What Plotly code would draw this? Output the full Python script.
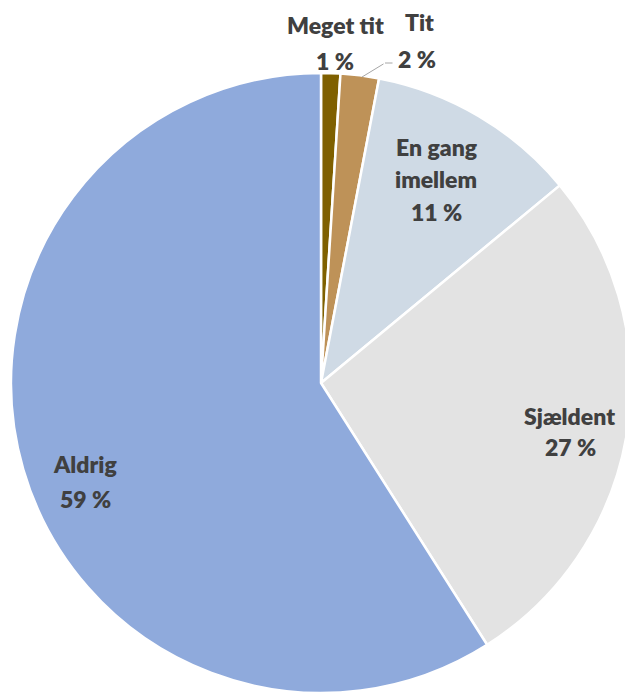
import plotly.graph_objects as go

# Share of answers per category, clockwise from 12 o'clock
categories = ["Meget tit", "Tit", "En gang imellem", "Sjældent", "Aldrig"]
shares = [1, 2, 11, 27, 59]
colors = ["#7F6000", "#BE9258", "#CFDAE5", "#E3E3E3", "#8FAADC"]

# Label text lines per category
label_lines = [
    ["Meget tit", "1 %"],
    ["Tit", "2 %"],
    ["En gang", "imellem", "11 %"],
    ["Sjældent", "27 %"],
    ["Aldrig", "59 %"],
]
# Pixel anchors (x, y of each line) for the label blocks
label_pos = [
    [(335, 25), (335, 61)],
    [(419, 22), (417, 59)],
    [(437, 147), (436, 179), (436, 212)],
    [(569, 416), (570, 447)],
    [(85, 464), (85, 499)],
]

W, H = 645, 693
CX, CY, R = 321, 383, 310

fig = go.Figure(
    go.Pie(
        labels=categories,
        values=shares,
        sort=False,
        direction="clockwise",
        rotation=0,
        marker=dict(colors=colors, line=dict(color="white", width=2.5)),
        textinfo="none",
        hoverinfo="label+percent",
        showlegend=False,
        domain=dict(x=[(CX - R) / W, (CX + R) / W], y=[0, 2 * R / H]),
    )
)

annotations = []
for lines, pos in zip(label_lines, label_pos):
    for txt, (px, py) in zip(lines, pos):
        annotations.append(
            dict(
                x=px / W, y=1 - py / H, xref="paper", yref="paper",
                text=txt, showarrow=False,
                xanchor="center", yanchor="middle",
                font=dict(family="Lato", size=23, color="#404040", weight=800),
            )
        )

# Leader line from the small "Tit" slice to its label
annotations.append(
    dict(
        x=362 / W, y=1 - 77 / H, xref="paper", yref="paper",
        text="", showarrow=True, arrowhead=0, arrowwidth=1,
        arrowcolor="#A6A6A6", ax=23, ay=-14,
    )
)
annotations.append(
    dict(
        x=385 / W, y=1 - 63 / H, xref="paper", yref="paper",
        text="", showarrow=True, arrowhead=0, arrowwidth=1,
        arrowcolor="#A6A6A6", ax=9, ay=0,
    )
)

fig.update_layout(
    width=W, height=H,
    margin=dict(l=0, r=0, t=0, b=0),
    paper_bgcolor="white", plot_bgcolor="white",
    annotations=annotations,
)

fig.write_html(
    "out.html",
    post_script="document.documentElement.style.overflow='hidden';document.body.style.overflow='hidden';",
)
